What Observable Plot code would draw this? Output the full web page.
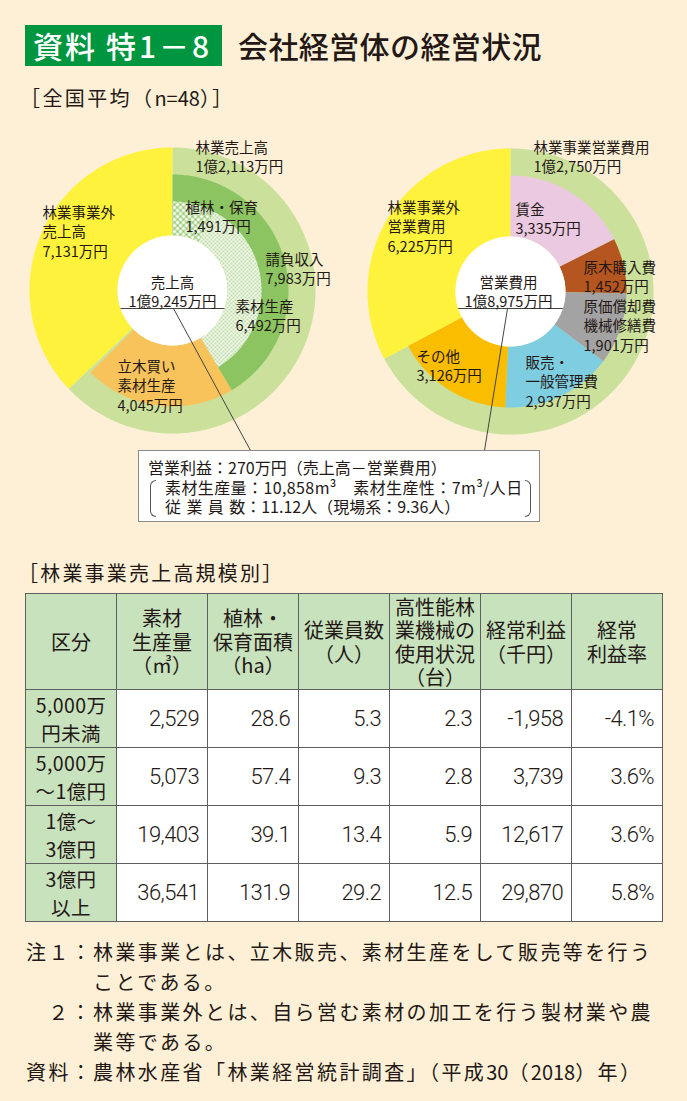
<!DOCTYPE html>
<html><head><meta charset="utf-8">
<script src="https://cdn.jsdelivr.net/npm/d3@7"></script>
<script src="https://cdn.jsdelivr.net/npm/@observablehq/plot@0.6"></script>
<style>
html,body{margin:0;padding:0;background:#fdf0d6;}
#page{position:relative;width:687px;height:1101px;background:#fdf0d6;font-family:"Noto Sans CJK JP","Noto Sans",sans-serif;color:#231815;overflow:hidden;}
.abs{position:absolute;white-space:nowrap;}
#tbox{left:25px;top:25px;width:197px;height:41px;background:#009640;color:#fff;font-size:30px;line-height:41px;padding-left:8px;box-sizing:border-box;font-weight:500;letter-spacing:2px;}
#ttl{left:238px;top:25px;font-size:30px;line-height:41px;font-weight:500;letter-spacing:0.4px;}
#sub1{left:20px;top:86px;font-size:20px;line-height:24px;letter-spacing:2.4px;}
#sub2{left:18px;top:561px;font-size:20px;line-height:24px;letter-spacing:2.2px;}
.tight{letter-spacing:0;}
#callout{left:138px;top:450px;width:402px;height:72px;background:#fff;border:1px solid #8a8a8a;box-sizing:border-box;font-size:16px;}
#callout .ln{position:absolute;white-space:nowrap;line-height:19px;height:19px;}
.brk{position:absolute;width:5px;height:35px;border:1px solid #555;}
#tbl{left:25px;top:593px;border-collapse:collapse;table-layout:fixed;width:638px;}
#tbl td,#tbl th{border:1px solid #5f5f5f;padding:0;}
#tbl th{background:#c8e2be;font-weight:400;font-size:20px;text-align:center;height:95px;}
#tbl th .l{height:23.5px;line-height:23.5px;overflow:visible;white-space:nowrap;}
#tbl td.lab{background:#c8e2be;font-size:19.5px;text-align:center;font-weight:400;letter-spacing:0.4px;}
#tbl td.lab .l{height:28px;line-height:28px;white-space:nowrap;}
#tbl td.num{background:#fff;text-align:right;padding-right:8px;font-family:Roboto,"Liberation Sans",sans-serif;font-weight:300;font-size:22px;letter-spacing:-0.6px;height:57px;}
#notes{left:26px;top:937px;font-size:20px;line-height:30px;letter-spacing:2.4px;}
#notes .row{display:flex;white-space:nowrap;height:30px;}
#notes .lb{width:67px;flex:none;}
#notes .lb.r{text-align:right;}
#notes .dg{letter-spacing:0;}
</style></head>
<body><div id="page">
<div id="tbox" class="abs">資料<span style="margin-left:9px;letter-spacing:3px">特1－8</span></div>
<div id="ttl" class="abs">会社経営体の経営状況</div>
<div id="sub1" class="abs">［全国平均（<span class="tight">n=48</span>）］</div>
<div id="chartWrap"></div>
<div id="callout" class="abs"></div>
<div id="sub2" class="abs">［林業事業売上高規模別］</div>
<table id="tbl" class="abs"></table>
<div id="notes" class="abs"></div>
</div>
<script>
// ---------------- data ----------------
const salesTotal = 19245;            // 売上高（万円）
const salesOuterNames = ["林業売上高", "林業事業外売上高"];
const salesOuterValues = [12113, 7131];
const contractName = "請負収入";
const contractValue = 7983;          // = 植林・保育 + 素材生産
const salesInnerNames = ["植林・保育", "素材生産", "立木買い素材生産"];
const salesInnerValues = [1491, 6492, 4045];

const costTotal = 18975;             // 営業費用（万円）
const costOuterNames = ["林業事業営業費用", "林業事業外営業費用"];
const costOuterValues = [12750, 6225];
const costInnerNames = ["賃金", "原木購入費", "原価償却費機械修繕費", "販売・一般管理費", "その他"];
const costInnerValues = [3335, 1452, 1901, 2937, 3126];

const profitMan = 270;               // 営業利益（万円）
const prodVolume = 10858;            // 素材生産量 m3
const productivity = 7;              // m3/人日
const employees = 11.12, fieldEmployees = 9.36;

const tableHeaders = ["区分", "素材\n生産量\n（㎥）", "植林・\n保育面積\n（ha）", "従業員数\n（人）", "高性能林\n業機械の\n使用状況\n（台）", "経常利益\n（千円）", "経常\n利益率"];
const tableClasses = ["5,000万\n円未満", "5,000万\n～1億円", "1億～\n3億円", "3億円\n以上"];
const colProduction = [2529, 5073, 19403, 36541];
const colPlanting = [28.6, 57.4, 39.1, 131.9];
const colEmployees = [5.3, 9.3, 13.4, 29.2];
const colMachines = [2.3, 2.8, 5.9, 12.5];
const colProfit = [-1958, 3739, 12617, 29870];
const colProfitRate = [-4.1, 3.6, 3.6, 5.8];

const notes = [
  ["注１：", "林業事業とは、立木販売、素材生産をして販売等を行う"],
  ["", "ことである。"],
  ["２：", "林業事業外とは、自ら営む素材の加工を行う製材業や農"],
  ["", "業等である。"],
  ["資料：", "農林水産省「林業経営統計調査」（平成30（2018）年）"]
];

// ---------------- styles / layout ----------------
const C = {
  yellow: "#fff23c", lightGreen: "#cbe09b", midGreen: "#8cc462", orange: "#f9c35c",
  pink: "#ebc9e0", brown: "#b5551f", gray: "#a3a3a3", blue: "#7fcde1", amber: "#fbbd00", ink: "#231815"
};
const costColors = [C.pink, C.brown, C.gray, C.blue, C.amber];
const L = {cx: 172, cy: 290}, R = {cx: 510, cy: 291};
const rHole = 55, rHatch = 89, rInner = 116, rOuter = 143;

const fmt = d3.format(",");
const man = v => v >= 10000 ? `${Math.floor(v / 10000)}億${fmt(v % 10000)}万円` : `${fmt(v)}万円`;

// ---------------- arcs ----------------
function arc(id, center, total, v0, v1, r0, r1, fill) {
  const a = d3.scaleLinear().domain([0, total]).range([0, 2 * Math.PI]);
  const a0 = a(v0), a1 = a(v1);
  const n = Math.max(2, Math.ceil((a1 - a0) / (Math.PI / 180)));
  const pts = [];
  for (let i = 0; i <= n; i++) { const t = a0 + (a1 - a0) * i / n; pts.push({id, fill, x: center.cx + r1 * Math.sin(t), y: center.cy - r1 * Math.cos(t)}); }
  for (let i = n; i >= 0; i--) { const t = a0 + (a1 - a0) * i / n; pts.push({id, fill, x: center.cx + r0 * Math.sin(t), y: center.cy - r0 * Math.cos(t)}); }
  return pts;
}
const shapes = [];
let acc = 0;
salesOuterValues.forEach((v, i) => { shapes.push(...arc("so" + i, L, salesTotal, acc, acc + v, rHole, rOuter, i === 0 ? C.lightGreen : C.yellow)); acc += v; });
shapes.push(...arc("contract", L, salesTotal, 0, contractValue, rHole, rInner, C.midGreen));
shapes.push(...arc("si0", L, salesTotal, 0, salesInnerValues[0], rHole, rHatch, "url(#hatchCross)"));
shapes.push(...arc("si1", L, salesTotal, salesInnerValues[0], salesInnerValues[0] + salesInnerValues[1], rHole, rHatch, "url(#hatchDots)"));
shapes.push(...arc("si2", L, salesTotal, contractValue, contractValue + salesInnerValues[2], rHole, rInner, C.orange));
acc = 0;
costOuterValues.forEach((v, i) => { shapes.push(...arc("co" + i, R, costTotal, acc, acc + v, rHole, rOuter, i === 0 ? C.lightGreen : C.yellow)); acc += v; });
acc = 0;
costInnerValues.forEach((v, i) => { shapes.push(...arc("ci" + i, R, costTotal, acc, acc + v, rHole, rInner, costColors[i])); acc += v; });

// ---------------- labels (layout kept separate from values) ----------------
const labelPos = [
  {x: 195, y: 143, text: `${salesOuterNames[0]}\n${man(salesOuterValues[0])}`},
  {x: 42, y: 208, text: `林業事業外\n売上高\n${man(salesOuterValues[1])}`},
  {x: 185, y: 203, text: `${salesInnerNames[0]}\n${man(salesInnerValues[0])}`},
  {x: 265, y: 255, text: `${contractName}\n${man(contractValue)}`},
  {x: 235, y: 302, text: `${salesInnerNames[1]}\n${man(salesInnerValues[1])}`},
  {x: 117, y: 362, text: `立木買い\n素材生産\n${man(salesInnerValues[2])}`},
  {x: 533, y: 143, text: `${costOuterNames[0]}\n${man(costOuterValues[0])}`},
  {x: 387, y: 203, text: `林業事業外\n営業費用\n${man(costOuterValues[1])}`},
  {x: 515, y: 205, text: `${costInnerNames[0]}\n${man(costInnerValues[0])}`},
  {x: 583, y: 263, text: `${costInnerNames[1]}\n${man(costInnerValues[1])}`},
  {x: 583, y: 302, text: `原価償却費\n機械修繕費\n${man(costInnerValues[2])}`},
  {x: 525, y: 358, text: `販売・\n一般管理費\n${man(costInnerValues[3])}`},
  {x: 416, y: 352, text: `${costInnerNames[4]}\n${man(costInnerValues[4])}`}
];
const centerLabels = [
  {x: L.cx, y: 279, text: `売上高\n${man(salesTotal)}`},
  {x: R.cx - 2, y: 279, text: `営業費用\n${man(costTotal)}`}
];
const chordY = 308;
const chords = [L, R].map(c => { const h = Math.sqrt(rHole * rHole - (chordY - c.cy) ** 2); return {x1: c.cx - h, x2: c.cx + h, y1: chordY, y2: chordY}; });
const leaders = [{x1: 173, y1: chordY, x2: 250, y2: 450}, {x1: 507, y1: chordY, x2: 484, y2: 450}];

const font = '"Noto Sans CJK JP", "Noto Sans", sans-serif';
const chart = Plot.plot({
  width: 687, height: 410, margin: 0,
  x: {domain: [0, 687], range: [0, 687], axis: null},
  y: {domain: [120, 530], range: [0, 410], axis: null},
  color: {type: "identity"},
  style: {background: "transparent", fontFamily: font, color: C.ink, overflow: "visible"},
  marks: [
    Plot.line(shapes, {x: "x", y: "y", z: "id", fill: "fill", stroke: "none", curve: "linear-closed"}),
    Plot.dot([L, R], {x: "cx", y: "cy", r: rHole, fill: "white", stroke: "none"}),
    Plot.link(chords, {x1: "x1", y1: "y1", x2: "x2", y2: "y2", stroke: "#444", strokeWidth: 1}),
    Plot.link(leaders, {x1: "x1", y1: "y1", x2: "x2", y2: "y2", stroke: "#444", strokeWidth: 1}),
    Plot.text(labelPos, {x: "x", y: d => d.y - 5, text: "text", textAnchor: "start", lineAnchor: "top", lineHeight: 1.36, fontSize: 14.5, fill: C.ink}),
    Plot.text(centerLabels, {x: "x", y: d => d.y - 5, text: "text", textAnchor: "middle", lineAnchor: "top", lineHeight: 1.3, fontSize: 14.5, fill: C.ink})
  ]
});
const svg = d3.select(chart);
const defs = svg.insert("defs", ":first-child");
const p1 = defs.append("pattern").attr("id", "hatchCross").attr("patternUnits", "userSpaceOnUse").attr("width", 6).attr("height", 6);
p1.append("rect").attr("width", 6).attr("height", 6).attr("fill", "#fff");
p1.append("path").attr("d", "M-1,-1L7,7M7,-1L-1,7").attr("stroke", "#8dc462").attr("stroke-width", 1.1);
const p2 = defs.append("pattern").attr("id", "hatchDots").attr("patternUnits", "userSpaceOnUse").attr("width", 4).attr("height", 4);
p2.append("rect").attr("width", 4).attr("height", 4).attr("fill", "#fff");
p2.append("circle").attr("cx", 1).attr("cy", 1).attr("r", 0.95).attr("fill", "#9fcd78");
p2.append("circle").attr("cx", 3).attr("cy", 3).attr("r", 0.95).attr("fill", "#9fcd78");
chart.style.position = "absolute"; chart.style.left = "0px"; chart.style.top = "120px";
document.getElementById("chartWrap").appendChild(chart);

// ---------------- callout ----------------
const co = document.getElementById("callout");
co.innerHTML = `
  <div class="ln" style="left:9px;top:7px;">営業利益：${profitMan}万円（売上高－営業費用）</div>
  <div class="brk" style="left:11px;top:29px;border-right:none;border-radius:6px 0 0 6px;"></div>
  <div class="ln" style="left:26px;top:27px;letter-spacing:0.4px">素材生産量：${fmt(prodVolume)}m³　素材生産性：${productivity}m³/人日</div>
  <div class="ln" style="left:26px;top:46px;"><span style="letter-spacing:5.4px">従業員</span>数：${employees}人（現場系：${fieldEmployees}人）</div>
  <div class="brk" style="left:386px;top:29px;border-left:none;border-radius:0 6px 6px 0;"></div>`;

// ---------------- table ----------------
const tbl = document.getElementById("tbl");
const lines = s => s.split("\n").map(t => `<div class="l">${t}</div>`).join("");
let html = "<colgroup>" + tableHeaders.map(() => "<col style='width:91px'>").join("") + "</colgroup>";
html += "<tr>" + tableHeaders.map(h => `<th>${lines(h)}</th>`).join("") + "</tr>";
const f1 = d3.format(".1f");
const minus = s => s.replace("−", "-");
tableClasses.forEach((c, i) => {
  const cells = [fmt(colProduction[i]), f1(colPlanting[i]), f1(colEmployees[i]), f1(colMachines[i]), minus(fmt(colProfit[i])), minus(f1(colProfitRate[i])) + "%"];
  html += `<tr><td class="lab">${lines(c)}</td>` + cells.map(v => `<td class="num">${v}</td>`).join("") + "</tr>";
});
tbl.innerHTML = html;

// ---------------- notes ----------------
const digits = s => s.replace(/([0-9]+)/g, '<span class="dg">$1</span>');
document.getElementById("notes").innerHTML = notes.map(([a, b]) =>
  `<div class="row"><div class="lb ${a === "２：" ? "r" : ""}">${a}</div><div>${digits(b)}</div></div>`).join("");
</script>
</body></html>
